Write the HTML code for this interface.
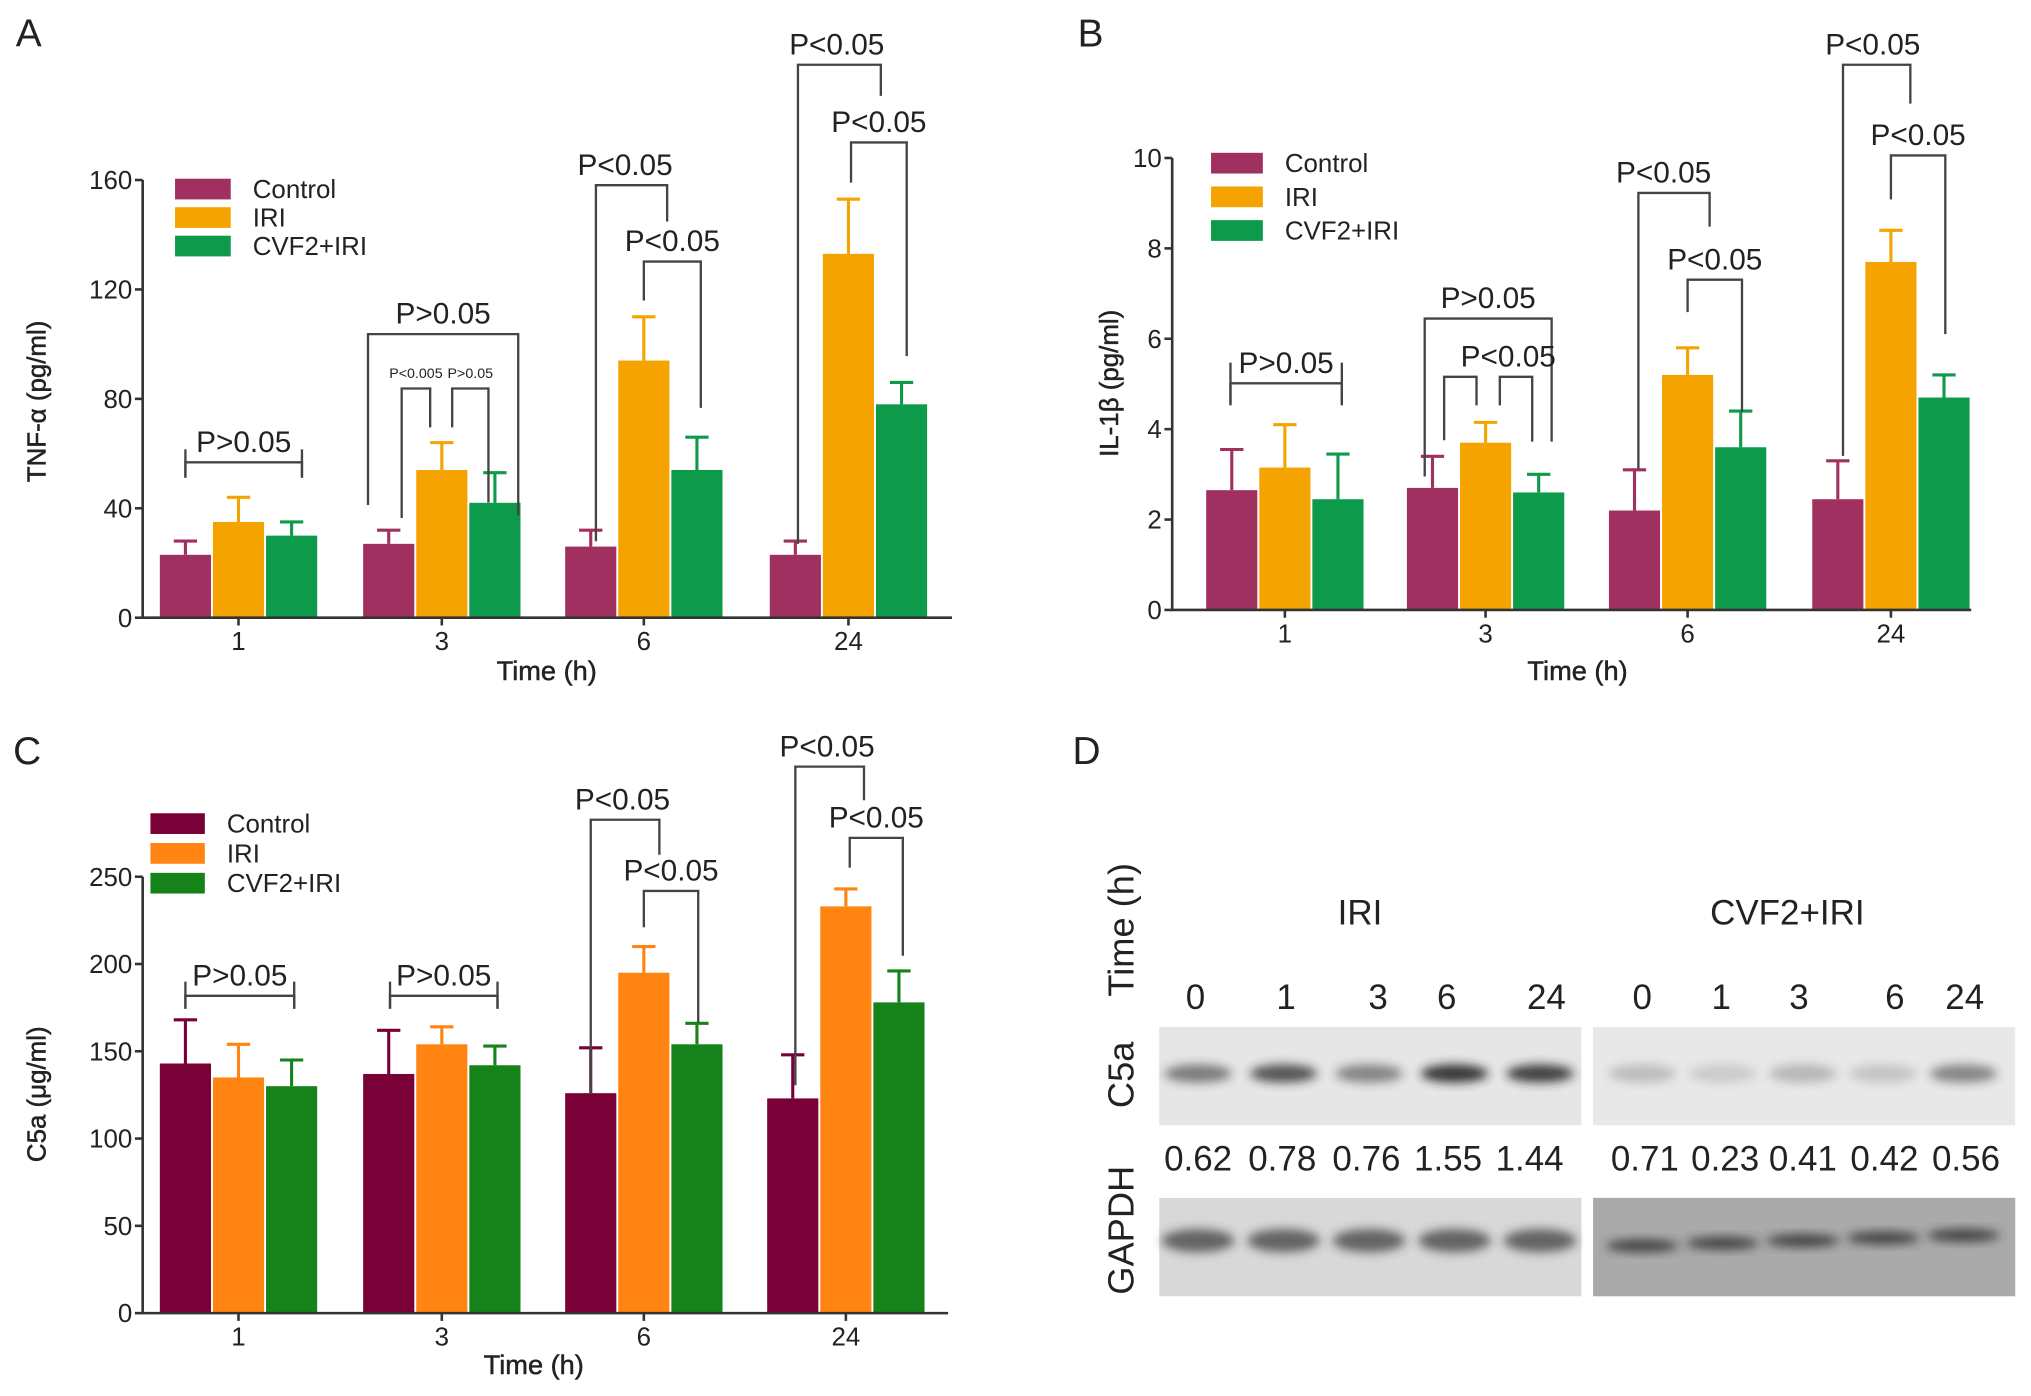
<!DOCTYPE html>
<html><head><meta charset="utf-8"><style>
html,body{margin:0;padding:0;background:#fff}
svg{display:block}
text{font-family:"Liberation Sans",Arial,sans-serif;fill:#222}
</style></head><body>
<svg id="fig" width="2031" height="1396" viewBox="0 0 1568 1078" xmlns="http://www.w3.org/2000/svg">
<defs><filter id="blur" x="-50%" y="-50%" width="200%" height="200%"><feGaussianBlur stdDeviation="4"/></filter></defs>
<g id="root"></g>
</svg>
<script>
// ---- data ----
const categories = ["1","3","6","24"];
const seriesNames = ["Control","IRI","CVF2+IRI"];
const tnfControl = [23,27,26,23], tnfControlErr = [28,32,32,28];
const tnfIRI = [35,54,94,133], tnfIRIErr = [44,64,110,153];
const tnfCVF = [30,42,54,78], tnfCVFErr = [35,53,66,86];
const tnfTicks = [0,40,80,120,160];
const ilControl = [2.65,2.7,2.2,2.45], ilControlErr = [3.55,3.4,3.1,3.3];
const ilIRI = [3.15,3.7,5.2,7.7], ilIRIErr = [4.1,4.15,5.8,8.4];
const ilCVF = [2.45,2.6,3.6,4.7], ilCVFErr = [3.45,3.0,4.4,5.2];
const ilTicks = [0,2,4,6,8,10];
const c5Control = [143,137,126,123], c5ControlErr = [168,162,152,148];
const c5IRI = [135,154,195,233], c5IRIErr = [154,164,210,243];
const c5CVF = [130,142,154,178], c5CVFErr = [145,153,166,196];
const c5Ticks = [0,50,100,150,200,250];
const blotTimes = ["0","1","3","6","24"];
const iriRatios = ["0.62","0.78","0.76","1.55","1.44"];
const cvfRatios = ["0.71","0.23","0.41","0.42","0.56"];
const iriBand = [0.55,0.75,0.5,0.9,0.85];
const cvfBand = [0.22,0.15,0.25,0.18,0.5];

const NS="http://www.w3.org/2000/svg";
const root=document.getElementById('root');
function el(tag,attrs,parent,txt){const e=document.createElementNS(NS,tag);for(const k in attrs)e.setAttribute(k,attrs[k]);if(txt!==undefined)e.textContent=txt;(parent||root).appendChild(e);return e;}

function panel(cfg){
  const g=el('g',{});
  
  
  const {x0,x1,y0,yTop,ymax,centers}=cfg;
  const ys=v=>y0-(v/ymax)*(y0-yTop);
  const bw=39.5, step=41;
  const series=[[cfg.c,cfg.ce],[cfg.i,cfg.ie],[cfg.v,cfg.ve]];
  series.forEach((s,si)=>{
    categories.forEach((cat,ci)=>{
      const cx=centers[ci]+(si-1)*step;
      const r=el('rect',{x:cx-bw/2,y:ys(s[0][ci]),width:bw,height:y0-ys(s[0][ci]),fill:cfg.colors[si]},g);
      
      
      const e=el('path',{d:`M${cx} ${ys(s[0][ci])}V${ys(s[1][ci])}M${cx-9} ${ys(s[1][ci])}H${cx+9}`,stroke:cfg.colors[si],'stroke-width':2.4,fill:'none'},g);
      
      
    });
  });
  const ax=el('path',{d:`M${x0} ${yTop}V${y0}H${x1}`,stroke:'#333','stroke-width':2,fill:'none'},g);
  
  
  cfg.ticks.forEach(t=>{
    el('path',{d:`M${x0-6} ${ys(t)}H${x0}`,stroke:'#333','stroke-width':2},g);
    const tl=el('text',{x:x0-8,y:ys(t)+7,'text-anchor':'end','font-size':20},g,t);
    
    
  });
  categories.forEach((c,ci)=>{
    el('path',{d:`M${centers[ci]} ${y0}V${y0+6}`,stroke:'#333','stroke-width':2},g);
    const tl=el('text',{x:centers[ci],y:y0+25,'text-anchor':'middle','font-size':20},g,c);
    
    
  });
  const xt=el('text',{x:cfg.xtitle[0],y:cfg.xtitle[1],'text-anchor':'middle','font-size':21,'stroke':'#222','stroke-width':0.4},g,'Time (h)');
  
  
  const yt=el('text',{x:0,y:0,transform:`translate(${cfg.ytitle[0]},${cfg.ytitle[1]}) rotate(-90)`,'text-anchor':'middle','font-size':20,'stroke':'#222','stroke-width':0.4},g,cfg.ylabel);
  
  
  seriesNames.forEach((n,i)=>{
    const L=cfg.legend;
    const sw=el('rect',{x:L[0],y:L[1]+i*L[3],width:L[2],height:16,fill:cfg.colors[i]},g);
    
    
    const lt=el('text',{x:L[0]+L[2]+17,y:L[1]+i*L[3]+15,'font-size':20},g,n);
    
    
  });
  cfg.brackets.forEach(b=>{
    const p=el('path',{d:`M${b[0]} ${b[3]}V${b[2]}H${b[1]}V${b[4]}`,stroke:'#444','stroke-width':1.8,fill:'none'},g);
    
    
    const t=el('text',{x:(b[0]+b[1])/2+(b[7]||0),y:b[2]-8,'text-anchor':'middle','font-size':b[6]||23},g,b[5]);
    
    
  });
  const lt=el('text',{x:cfg.letter[0],y:cfg.letter[1],'font-size':30},g,cfg.letterText);
  
  
}
const colAB=['#a0305f','#f5a300','#0d9a4a'], colC=['#7a0038','#ff8412','#16821a'];
panel({name:'panel-a-tnf',x0:110,x1:735,y0:477,yTop:139,ymax:160,centers:[184,341,497,655],
 c:tnfControl,ce:tnfControlErr,i:tnfIRI,ie:tnfIRIErr,v:tnfCVF,ve:tnfCVFErr,ticks:tnfTicks,colors:colAB,
 xtitle:[422,525],ytitle:[35,310],ylabel:'TNF-α (pg/ml)',legend:[135,138,43,22],letter:[12,36],letterText:'A',
 brackets:[[143,233,357,369,369,'P>0.05'],[284,400,258,390,398,'P>0.05'],[310,332,300,400,330,'P<0.005',11],[349,377,300,330,388,'P>0.05',11],
 [460,515,143,418,171,'P<0.05',23,-5],[497,541,202,232,315,'P<0.05'],[616,680,50,420,74,'P<0.05',23,-2],[657,700,110,141,275,'P<0.05']]});
panel({name:'panel-b-il1b',x0:905,x1:1522,y0:471,yTop:122,ymax:10,centers:[992,1147,1303,1460],
 c:ilControl,ce:ilControlErr,i:ilIRI,ie:ilIRIErr,v:ilCVF,ve:ilCVFErr,ticks:ilTicks,colors:colAB,
 xtitle:[1218,525],ytitle:[863,296],ylabel:'IL-1β (pg/ml)',legend:[935,118,40,26],letter:[832,36],letterText:'B',
 brackets:[[950,1036,296,313,313,'P>0.05'],[1100,1198,246,368,341,'P>0.05'],[1115,1140,291,340,313,''],[1158,1183,291,313,341,'P<0.05',23,-6],
 [1265,1320,149,362,175,'P<0.05',23,-8],[1303,1345,216,241,318,'P<0.05'],[1423,1475,50,352,80,'P<0.05',23,-3],[1460,1502,120,154,258,'P<0.05']]});
el('path',{d:'M950 280V312M1036 280V312',stroke:'#444','stroke-width':1.8});
el('path',{d:'M143 347V368M233 347V368',stroke:'#444','stroke-width':1.8});
panel({name:'panel-c-c5a',x0:110,x1:732,y0:1014,yTop:677,ymax:250,centers:[184,341,497,653],
 c:c5Control,ce:c5ControlErr,i:c5IRI,ie:c5IRIErr,v:c5CVF,ve:c5CVFErr,ticks:c5Ticks,colors:colC,
 xtitle:[412,1061],ytitle:[35,845],ylabel:'C5a (μg/ml)',legend:[116,628,42,23],letter:[10,590],letterText:'C',
 brackets:[[143,227,769,779,779,'P>0.05'],[301,384,769,779,779,'P>0.05'],[456,509,633,845,660,'P<0.05',23,-2],[497,539,688,716,790,'P<0.05'],
 [614,667,592,838,618,'P<0.05',23,-2],[656,697,647,670,738,'P<0.05']]});
el('path',{d:'M143 758V779M227 758V779M301 758V779M384 758V779',stroke:'#444','stroke-width':1.8});

// ---- panel D blot ----
const d=el('g',{});


const dl=el('text',{x:828,y:590,'font-size':30},d,'D');


el('text',{x:0,y:0,transform:'translate(875,718) rotate(-90)','text-anchor':'middle','font-size':28},d,'Time (h)');
el('text',{x:0,y:0,transform:'translate(875,830) rotate(-90)','text-anchor':'middle','font-size':28},d,'C5a');
el('text',{x:0,y:0,transform:'translate(875,950) rotate(-90)','text-anchor':'middle','font-size':28},d,'GAPDH');
el('text',{x:1050,y:714,'text-anchor':'middle','font-size':27},d,'IRI');
el('text',{x:1380,y:714,'text-anchor':'middle','font-size':27},d,'CVF2+IRI');
const laneL=[923,993,1064,1117,1194], laneR=[1268,1329,1389,1463,1517];
const numL=[925,990,1055,1118,1181], numR=[1270,1332,1392,1455,1518];
[[895,laneL,numL,iriRatios,iriBand,'#e6e6e6','#d8d8d8'],[1230,laneR,numR,cvfRatios,cvfBand,'#e8e8e8','#aaaaaa']].forEach(([bx,lanes,nums,rat,band,bg1,bg2],k)=>{
  const b1=el('rect',{x:bx,y:793,width:326,height:76,fill:bg1},d);
  
  
  const b2=el('rect',{x:bx,y:925,width:326,height:76,fill:bg2},d);
  
  
  blotTimes.forEach((t,i)=>{
    el('text',{x:lanes[i],y:779,'text-anchor':'middle','font-size':27},d,t);
    el('text',{x:nums[i],y:904,'text-anchor':'middle','font-size':27},d,rat[i]);
    const bc=k===0?bx+30+i*66:bx+38+i*62;
    const bd=el('ellipse',{cx:bc,cy:829,rx:26,ry:7,fill:'#222',opacity:band[i],filter:'url(#blur)'},d);
    
    
    const gd=el('ellipse',{cx:bc,cy:k===0?958:962-i*2,rx:28,ry:k===0?9:5,fill:'#333',opacity:k===0?0.7:0.85,filter:'url(#blur)'},d);
    
    
  });
});
</script>
</body></html>
